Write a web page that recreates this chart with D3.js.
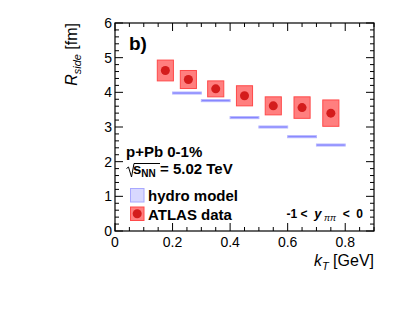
<!DOCTYPE html>
<html>
<head>
<meta charset="utf-8">
<script src="https://cdn.jsdelivr.net/npm/d3@7"></script>
<style>
  body { margin: 0; background: #fff; }
  text { font-family: "Liberation Sans", Arial, sans-serif; }
</style>
</head>
<body>
<svg id="chart"></svg>
<script>
// ATLAS data points
var kT = [0.175, 0.255, 0.35, 0.45, 0.55, 0.65, 0.75];
var rSide = [4.63, 4.37, 4.10, 3.90, 3.61, 3.56, 3.40];
var rSys = [0.30, 0.26, 0.23, 0.29, 0.26, 0.31, 0.38];

// hydro model bins
var hydroLo = [0.2, 0.3, 0.4, 0.5, 0.6, 0.7];
var hydroHi = [0.3, 0.4, 0.5, 0.6, 0.7, 0.8];
var hydroR = [3.98, 3.76, 3.27, 3.00, 2.72, 2.48];

var xTicks = [0, 0.2, 0.4, 0.6, 0.8];
var yTicks = [0, 1, 2, 3, 4, 5, 6];

var width = 415, height = 313;
var pLeft = 115, pRight = 374, pTop = 23, pBottom = 231;

var svg = d3.select('#chart')
    .attr('width', width)
    .attr('height', height);

var x = d3.scaleLinear().domain([0, 0.9]).range([pLeft, pRight]);
var y = d3.scaleLinear().domain([0, 6]).range([pBottom, pTop]);

var g = svg.append('g');

// hydro bands
hydroR.forEach(function(r, i) {
    g.append('rect')
        .attr('x', x(hydroLo[i]))
        .attr('y', y(r) - 1)
        .attr('width', x(hydroHi[i]) - x(hydroLo[i]))
        .attr('height', 2)
        .attr('fill', '#7f7fff')
        .attr('stroke', '#b4b4ff')
        .attr('stroke-width', 1);
});

// data boxes + points
var dx = 0.028;
kT.forEach(function(k, i) {
    g.append('rect')
        .attr('x', x(k - dx))
        .attr('y', y(rSide[i] + rSys[i]))
        .attr('width', x(k + dx) - x(k - dx))
        .attr('height', y(rSide[i] - rSys[i]) - y(rSide[i] + rSys[i]))
        .attr('fill', '#ff7f7f')
        .attr('stroke', '#ff4a4a')
        .attr('stroke-width', 1);
    g.append('circle')
        .attr('cx', x(k))
        .attr('cy', y(rSide[i]))
        .attr('r', 4.5)
        .attr('fill', '#d41c1c');
});

// frame
svg.append('rect')
    .attr('x', pLeft).attr('y', pTop)
    .attr('width', pRight - pLeft).attr('height', pBottom - pTop)
    .attr('fill', 'none').attr('stroke', '#000').attr('stroke-width', 1.2);

// ticks (ROOT style, inward, on all sides)
var axes = svg.append('g').attr('stroke', '#000').attr('stroke-width', 1);
d3.range(0, 0.9001, 0.05).forEach(function(v) {
    var major = Math.abs(v / 0.2 - Math.round(v / 0.2)) < 1e-6;
    var len = major ? 8 : 4;
    axes.append('line').attr('x1', x(v)).attr('x2', x(v)).attr('y1', pBottom).attr('y2', pBottom - len);
    axes.append('line').attr('x1', x(v)).attr('x2', x(v)).attr('y1', pTop).attr('y2', pTop + len);
});
d3.range(0, 6.0001, 0.2).forEach(function(v) {
    var major = Math.abs(v - Math.round(v)) < 1e-6;
    var len = major ? 8 : 4;
    axes.append('line').attr('x1', pLeft).attr('x2', pLeft + len).attr('y1', y(v)).attr('y2', y(v));
    axes.append('line').attr('x1', pRight).attr('x2', pRight - len).attr('y1', y(v)).attr('y2', y(v));
});

// tick labels
svg.selectAll('.xl').data(xTicks).enter().append('text')
    .attr('x', function(d) { return x(d); })
    .attr('y', pBottom + 16)
    .attr('text-anchor', 'middle')
    .attr('font-size', 14)
    .text(function(d) { return d === 0 ? '0' : d.toFixed(1); });

svg.selectAll('.yl').data(yTicks).enter().append('text')
    .attr('x', pLeft - 3)
    .attr('y', function(d) { return y(d) + 5; })
    .attr('text-anchor', 'end')
    .attr('font-size', 14)
    .text(function(d) { return d; });

// axis titles
var yt = svg.append('text')
    .attr('transform', 'translate(77,' + pTop + ') rotate(-90)')
    .attr('text-anchor', 'end')
    .attr('font-size', 16);
yt.append('tspan').attr('font-style', 'italic').text('R');
yt.append('tspan').attr('font-style', 'italic').attr('font-size', 11).attr('dy', 4).text('side');
yt.append('tspan').attr('dy', -4).text(' [fm]');

var xt = svg.append('text')
    .attr('x', pRight)
    .attr('y', 266)
    .attr('text-anchor', 'end')
    .attr('font-size', 16);
xt.append('tspan').attr('font-style', 'italic').text('k');
xt.append('tspan').attr('font-style', 'italic').attr('font-size', 11).attr('dy', 4).text('T');
xt.append('tspan').attr('dy', -4).text(' [GeV]');

// panel label
svg.append('text')
    .attr('x', 129).attr('y', 50)
    .attr('font-size', 19).attr('font-weight', 'bold')
    .text('b)');

// legend / labels
svg.append('text')
    .attr('x', 126).attr('y', 157)
    .attr('font-size', 15).attr('font-weight', 'bold')
    .text('p+Pb 0-1%');

var sq = svg.append('g');
sq.append('path')
    .attr('d', 'M126.5,168.5 L128.5,167 L131.5,177 L134,163.5 L160,163.5')
    .attr('fill', 'none').attr('stroke', '#000').attr('stroke-width', 1);
var st = sq.append('text')
    .attr('x', 133).attr('y', 174)
    .attr('font-size', 15).attr('font-weight', 'bold');
st.append('tspan').text('s');
st.append('tspan').attr('font-size', 10).attr('dy', 3).text('NN');
st.append('tspan').attr('dy', -3).text(' = 5.02 TeV');

svg.append('rect')
    .attr('x', 130.5).attr('y', 188.5).attr('width', 13.5).attr('height', 13.5)
    .attr('fill', '#d8d8ff').attr('stroke', '#a8a8ff');
svg.append('text')
    .attr('x', 148).attr('y', 201)
    .attr('font-size', 15).attr('font-weight', 'bold')
    .text('hydro model');

svg.append('rect')
    .attr('x', 130.5).attr('y', 207).attr('width', 13.5).attr('height', 13.5)
    .attr('fill', '#ff7f7f').attr('stroke', '#ff4a4a');
svg.append('circle')
    .attr('cx', 137.2).attr('cy', 213.8).attr('r', 4.5).attr('fill', '#d41c1c');
svg.append('text')
    .attr('x', 148).attr('y', 220)
    .attr('font-size', 15).attr('font-weight', 'bold')
    .text('ATLAS data');

var rap = svg.append('text')
    .attr('x', 363).attr('y', 218)
    .attr('text-anchor', 'end')
    .attr('font-size', 12).attr('font-weight', 'bold')
    .style('white-space', 'pre');
rap.append('tspan').text('-1 <  ');
rap.append('tspan').attr('font-style', 'italic').attr('font-size', 13).text('y');
rap.append('tspan').attr('font-style', 'italic').attr('font-weight', 'normal').attr('font-size', 9).attr('dy', 3).text(' ππ');
rap.append('tspan').attr('dy', -3).text('  <  0');
</script>
</body>
</html>
